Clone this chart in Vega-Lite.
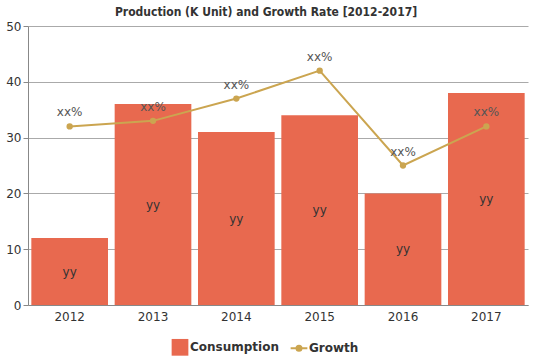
{
  "$schema": "https://vega.github.io/schema/vega-lite/v6.json",
  "width": 500,
  "height": 279,
  "autosize": {"type": "none"},
  "padding": {"left": 28, "top": 26, "right": 11, "bottom": 54},
  "background": "white",
  "config": {
    "view": {"stroke": null},
    "font": "DejaVu Sans",
    "axis": {"labelFont": "DejaVu Sans", "labelFontSize": 12, "labelColor": "#333", "domainColor": "#888", "tickColor": "#888", "gridColor": "#aaa"},
    "axisY": {"values": [0, 10, 20, 30, 40, 50], "tickSize": 5, "labelPadding": 2, "grid": true, "title": null, "labelOverlap": false}
  },
  "title": {
    "text": "Production (K Unit) and Growth Rate [2012-2017]",
    "font": "DejaVu Sans Condensed",
    "fontWeight": "bold",
    "fontSize": 12,
    "color": "#333",
    "offset": 1,
    "dx": -12
  },
  "data": {
    "values": [
      {"year": "2012", "Consumption": 12, "Growth": 32},
      {"year": "2013", "Consumption": 36, "Growth": 33},
      {"year": "2014", "Consumption": 31, "Growth": 37},
      {"year": "2015", "Consumption": 34, "Growth": 42},
      {"year": "2016", "Consumption": 20, "Growth": 25},
      {"year": "2017", "Consumption": 38, "Growth": 32}
    ]
  },
  "encoding": {
    "x": {
      "field": "year", "type": "nominal",
      "scale": {"paddingInner": 0.08, "paddingOuter": 0.04},
      "axis": {"title": null, "labelAngle": 0, "ticks": false, "labelPadding": 6}
    }
  },
  "layer": [
    {
      "mark": {"type": "bar", "color": "#E8694F"},
      "encoding": {
        "y": {
          "field": "Consumption", "type": "quantitative",
          "scale": {"domain": [0, 50]}
        },
        "color": {
          "datum": "Consumption",
          "scale": {"domain": ["Consumption", "Growth"], "range": ["#E8694F", "#CBA550"]},
          "legend": {
            "title": null, "orient": "none", "direction": "horizontal",
            "legendX": 146, "legendY": 315,
            "labelFont": "DejaVu Sans", "labelFontSize": 12, "labelFontWeight": "bold", "labelColor": "#333",
            "symbolSize": 280, "columnPadding": 6,
            "symbolType": "square",
            "encode": {
              "symbols": {
                "update": {
                  "shape": {"signal": "datum.value === 'Growth' ? 'M-1,0H1M-0.3,0A0.3,0.3 0 1,1 0.3,0A0.3,0.3 0 1,1 -0.3,0' : 'square'"},
                  "strokeWidth": {"signal": "datum.value === 'Growth' ? 2 : 0"},
                  "stroke": {"signal": "datum.value === 'Growth' ? '#CBA550' : '#E8694F'"},
                  "fill": {"signal": "datum.value === 'Growth' ? '#CBA550' : '#E8694F'"},
                  "fillOpacity": {"value": 1}
                }
              }
            }
          }
        }
      }
    },
    {
      "transform": [{"calculate": "datum.Consumption / 2", "as": "mid"}],
      "mark": {"type": "text", "fontSize": 12, "color": "#333"},
      "encoding": {
        "y": {"field": "mid", "type": "quantitative"},
        "text": {"value": "yy"}
      }
    },
    {
      "mark": {"type": "line", "color": "#CBA550", "strokeWidth": 2, "point": {"filled": true, "size": 40, "color": "#CBA550"}},
      "encoding": {
        "y": {"field": "Growth", "type": "quantitative"},
        "color": {"datum": "Growth"}
      }
    },
    {
      "mark": {"type": "text", "fontSize": 12, "color": "#555", "dy": -14},
      "encoding": {
        "y": {"field": "Growth", "type": "quantitative"},
        "text": {"value": "xx%"}
      }
    }
  ]
}
